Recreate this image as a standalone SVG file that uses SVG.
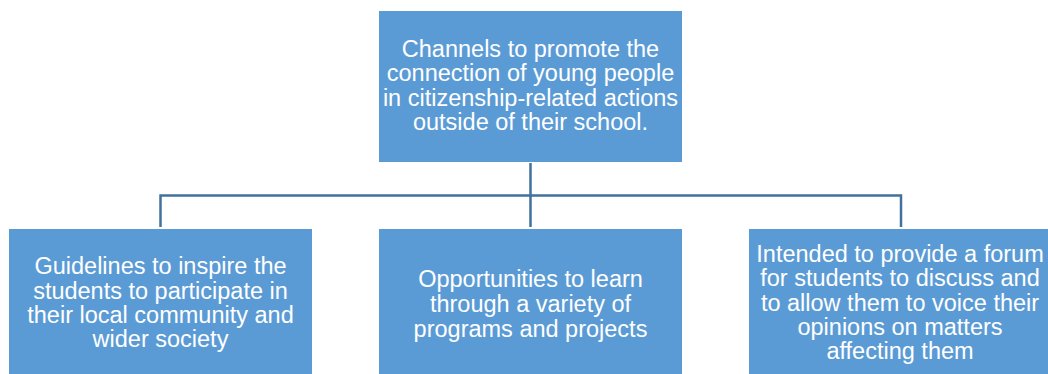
<svg xmlns="http://www.w3.org/2000/svg" width="1048" height="374" viewBox="0 0 1048 374">
<style>
.box{fill:#5B9BD5;}
.t{font-family:"Liberation Sans",Arial,sans-serif;font-size:23.5px;fill:#fff;text-anchor:middle;}
.c{fill:none;stroke:#41719C;stroke-width:2.5;}
</style>
<rect width="1048" height="374" fill="#fff"/>
<g id="connectors">
<path class="c" d="M530.5 163 V195.5 M160.5 227 V195.5 H901 V227 M530.5 195.5 V227"/>
</g>
<g id="top">
<rect class="box" x="379" y="11" width="303" height="151"/>
<text class="t" x="530.5"><tspan x="530.5" y="57">Channels to promote the</tspan><tspan x="530.5" y="81">connection of young people</tspan><tspan x="530.5" y="106">in citizenship-related actions</tspan><tspan x="530.5" y="130">outside of their school.</tspan></text>
</g>
<g id="left">
<rect class="box" x="9" y="229" width="303" height="150"/>
<text class="t"><tspan x="160.5" y="274">Guidelines to inspire the</tspan><tspan x="160.5" y="299">students to participate in</tspan><tspan x="160.5" y="323">their local community and</tspan><tspan x="160.5" y="347">wider society</tspan></text>
</g>
<g id="middle">
<rect class="box" x="379" y="229" width="303" height="150"/>
<text class="t"><tspan x="530.5" y="287">Opportunities to learn</tspan><tspan x="530.5" y="312">through a variety of</tspan><tspan x="530.5" y="337">programs and projects</tspan></text>
</g>
<g id="right">
<rect class="box" x="749" y="229" width="303" height="150"/>
<text class="t"><tspan x="900" y="262">Intended to provide a forum</tspan><tspan x="900" y="286">for students to discuss and</tspan><tspan x="900" y="311">to allow them to voice their</tspan><tspan x="900" y="335">opinions on matters</tspan><tspan x="900" y="359">affecting them</tspan></text>
</g>
</svg>
